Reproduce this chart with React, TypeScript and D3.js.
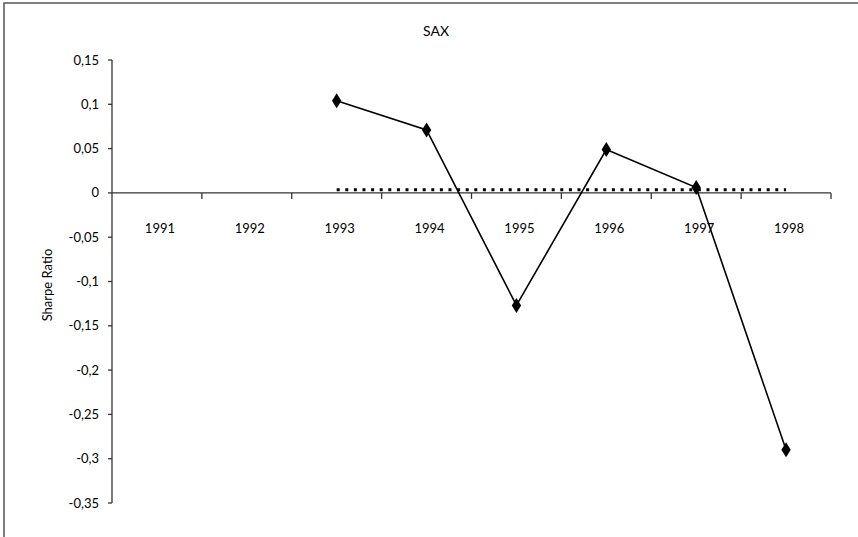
import React, { useEffect, useRef } from 'react';
import * as d3 from 'd3';

const years = ['1991', '1992', '1993', '1994', '1995', '1996', '1997', '1998'];
const sharpe: (number | null)[] = [null, null, 0.104, 0.071, -0.127, 0.049, 0.006, -0.29];
const benchmark: (number | null)[] = [null, null, 0.0035, 0.0035, 0.0035, 0.0035, 0.0035, 0.0035];
const yTicks = [0.15, 0.1, 0.05, 0, -0.05, -0.1, -0.15, -0.2, -0.25, -0.3, -0.35];

const W = 858;
const H = 537;
const FONT = 'Lato, "Open Sans", sans-serif';

export default function App() {
  const svgRef = useRef<SVGSVGElement>(null);

  useEffect(() => {
    if (!svgRef.current) return;
    const svg = d3.select(svgRef.current);
    svg.selectAll('*').remove();

    const left = 112, right = 831, top = 60, bottom = 503;
    const x = d3.scaleBand<string>().domain(years).range([left, right]);
    const y = d3.scaleLinear().domain([-0.35, 0.15]).range([bottom, top]);
    const cx = (yr: string) => (x(yr) as number) + x.bandwidth() / 2;

    // outer frame (runs off the right/bottom edges)
    svg.append('rect')
      .attr('x', 4).attr('y', 3)
      .attr('width', W + 10).attr('height', H + 10)
      .attr('fill', 'none').attr('stroke', '#555').attr('stroke-width', 1.5);

    // title
    svg.append('text')
      .attr('x', 436).attr('y', 36)
      .attr('text-anchor', 'middle')
      .attr('font-family', FONT).attr('font-size', 14)
      .attr('fill', '#000')
      .text('SAX');

    // y axis
    svg.append('line')
      .attr('x1', left).attr('x2', left).attr('y1', top).attr('y2', bottom)
      .attr('stroke', '#333').attr('stroke-width', 1.3);
    const yt = svg.append('g');
    yTicks.forEach(v => {
      yt.append('line')
        .attr('x1', left - 4).attr('x2', left)
        .attr('y1', y(v)).attr('y2', y(v))
        .attr('stroke', '#333').attr('stroke-width', 1.3);
      yt.append('text')
        .attr('x', left - 13).attr('y', y(v))
        .attr('dy', '0.35em')
        .attr('text-anchor', 'end')
        .attr('font-family', FONT).attr('font-size', 13)
        .attr('fill', '#000')
        .text(String(v).replace('.', ','));
    });

    svg.append('text')
      .attr('transform', `translate(47,285) rotate(-90)`)
      .attr('text-anchor', 'middle')
      .attr('dy', '0.35em')
      .attr('font-family', FONT).attr('font-size', 13)
      .attr('fill', '#000')
      .text('Sharpe Ratio');

    // x axis at zero
    const y0 = y(0);
    svg.append('line')
      .attr('x1', left).attr('x2', right).attr('y1', y0).attr('y2', y0)
      .attr('stroke', '#333').attr('stroke-width', 1.3);
    years.forEach((yr, i) => {
      const bx = (x(yr) as number) + x.bandwidth();
      svg.append('line')
        .attr('x1', bx).attr('x2', bx).attr('y1', y0).attr('y2', y0 + 6)
        .attr('stroke', '#333').attr('stroke-width', 1.3);
      svg.append('text')
        .attr('x', cx(yr) + 3).attr('y', y0 + 40)
        .attr('text-anchor', 'middle')
        .attr('font-family', FONT).attr('font-size', 13)
        .attr('fill', '#000')
        .text(yr);
    });

    // dotted benchmark
    const benchPts = years.map((yr, i) => ({ yr, v: benchmark[i] })).filter(d => d.v !== null);
    svg.append('path')
      .datum(benchPts)
      .attr('fill', 'none')
      .attr('stroke', '#000')
      .attr('stroke-width', 3)
      .attr('stroke-dasharray', '3,5.6')
      .attr('d', d3.line<{ yr: string; v: number | null }>()
        .x(d => cx(d.yr))
        .y(d => y(d.v as number)));

    // sharpe ratio line
    const pts = years.map((yr, i) => ({ yr, v: sharpe[i] })).filter(d => d.v !== null);
    svg.append('path')
      .datum(pts)
      .attr('fill', 'none')
      .attr('stroke', '#000')
      .attr('stroke-width', 1.6)
      .attr('d', d3.line<{ yr: string; v: number | null }>()
        .x(d => cx(d.yr))
        .y(d => y(d.v as number)));

    svg.append('g')
      .selectAll('path')
      .data(pts)
      .enter().append('path')
      .attr('transform', d => `translate(${cx(d.yr)},${y(d.v as number)})`)
      .attr('d', 'M0,-7.5L4.7,0L0,7.5L-4.7,0Z')
      .attr('fill', '#000');
  }, []);

  return (
    <svg ref={svgRef} width={W} height={H}
      style={{ position: 'absolute', left: 0, top: 0, background: '#fff' }} />
  );
}
